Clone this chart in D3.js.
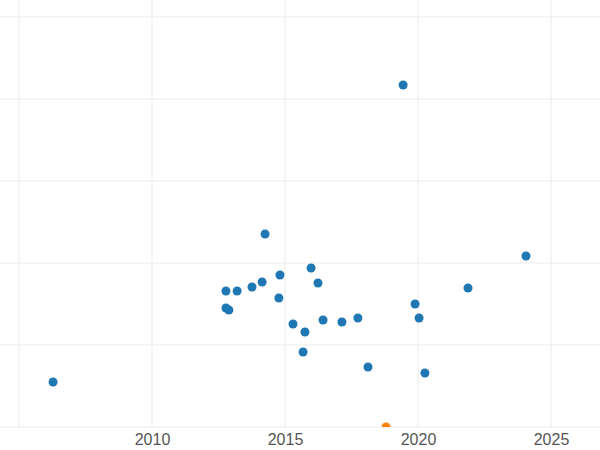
<!DOCTYPE html>
<html>
<head>
<meta charset="utf-8">
<script src="https://cdn.jsdelivr.net/npm/d3@7"></script>
<style>
  body { margin: 0; background: #fff; }
  svg { font-family: "DejaVu Sans", sans-serif; }
</style>
</head>
<body>
<svg id="chart" width="600" height="450"></svg>
<script>
const years = [2006.28, 2019.44, 2014.25, 2024.06, 2015.98, 2014.81, 2014.14, 2013.76, 2012.78, 2013.20,
               2016.24, 2014.77, 2021.88, 2019.89, 2012.78, 2012.89, 2020.04, 2017.74, 2016.43, 2017.14,
               2015.30, 2015.75, 2015.68, 2018.12, 2020.26];
const values = [0.549, 4.171, 2.354, 2.085, 1.939, 1.854, 1.768, 1.707, 1.659, 1.659,
                1.756, 1.573, 1.695, 1.5, 1.451, 1.427, 1.329, 1.329, 1.305, 1.28,
                1.256, 1.159, 0.915, 0.732, 0.659];
const highlightYears = [2018.80];
const highlightValues = [0];
const xTicks = [2010, 2015, 2020, 2025];
const gridX = [2005, 2010, 2015, 2020, 2025];
const gridY = [0, 1, 2, 3, 4, 5];

const svg = d3.select('#chart');
const x = d3.scaleLinear().domain([2005, 2025]).range([19, 551]);
const y = d3.scaleLinear().domain([0, 5]).range([427, 17]);

const grid = svg.append('g').attr('stroke', '#ebebeb').attr('stroke-width', 1);
grid.selectAll('.gy').data(gridY).enter().append('line')
    .attr('x1', 0).attr('x2', 600)
    .attr('y1', d => y(d)).attr('y2', d => y(d));
grid.selectAll('.gx').data(gridX).enter().append('line')
    .attr('y1', 0).attr('y2', 427)
    .attr('x1', d => x(d)).attr('x2', d => x(d));

svg.append('defs').append('clipPath').attr('id', 'clip')
   .append('rect').attr('x', 0).attr('y', 0).attr('width', 600).attr('height', 427);

const pts = svg.append('g').attr('clip-path', 'url(#clip)');
pts.selectAll('.p').data(years).enter().append('circle')
   .attr('cx', d => x(d)).attr('cy', (d, i) => y(values[i]))
   .attr('r', 4.5).attr('fill', '#1f77b4');
pts.selectAll('.h').data(highlightYears).enter().append('circle')
   .attr('cx', d => x(d)).attr('cy', (d, i) => y(highlightValues[i]))
   .attr('r', 4.5).attr('fill', '#ff7f0e');

const xAxis = svg.append('g').attr('transform', 'translate(0,427)')
    .call(d3.axisBottom(x).tickValues(xTicks).tickFormat(d3.format('d')).tickSize(0).tickPadding(7));
xAxis.select('.domain').remove();
xAxis.selectAll('text').attr('fill', '#555').style('font-size', '16px');
</script>
</body>
</html>
